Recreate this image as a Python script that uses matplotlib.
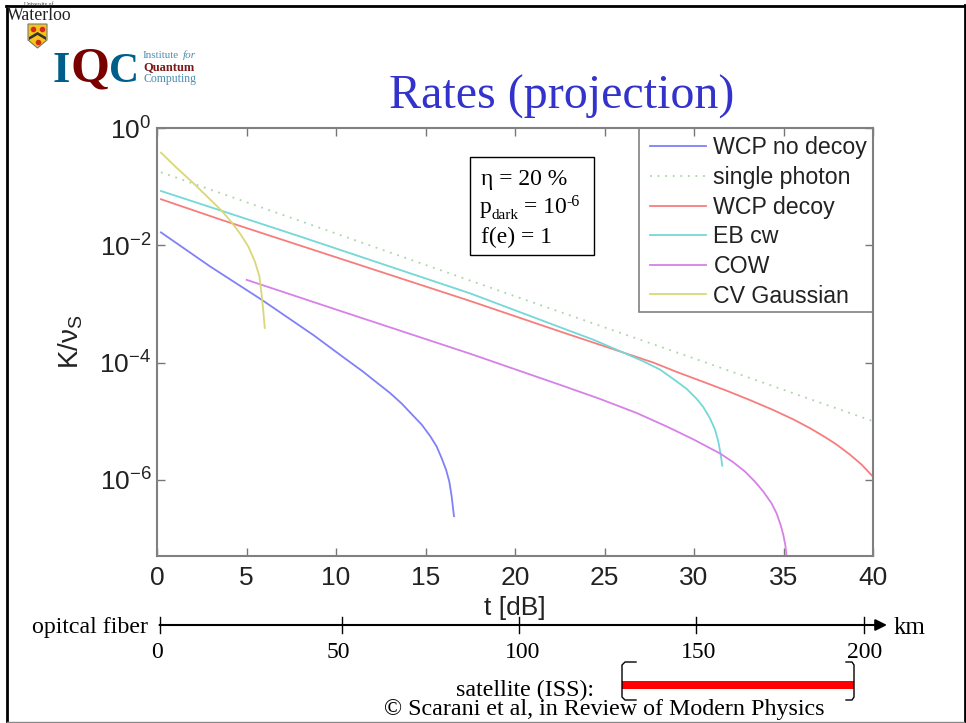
import numpy as np
import matplotlib as mpl
mpl.use("Agg")
import matplotlib.pyplot as plt
from matplotlib.patches import Polygon, Rectangle

mpl.rc("font", family=["Liberation Sans", "DejaVu Sans"], size=17)
mpl.rc("mathtext", default="regular")

# ----- data (t in dB, exponent of K/nu_S) -----

t_no_decoy = [0.22, 2.96, 5.85, 8.73, 10.41, 11.53, 12.27, 13.02, 13.67, 14.32, 14.79, 15.25, 15.62, 15.9, 16.15, 16.33, 16.46, 16.59]
k_no_decoy = [-1.78, -2.36, -2.93, -3.53, -3.91, -4.16, -4.34, -4.52, -4.70, -4.91, -5.06, -5.25, -5.43, -5.63, -5.83, -6.03, -6.28, -6.62]

t_single = [0.22, 10.0, 20.0, 30.0, 39.9]
k_single = [-0.755, -1.80, -2.87, -3.93, -4.99]

t_decoy = [0.22, 3.63, 17.49, 22.51, 26.05, 27.72, 29.03, 30.52, 31.82, 33.12, 34.43, 35.55, 36.48, 37.31, 37.97, 38.71, 39.36, 39.98]
k_decoy = [-1.215, -1.57, -2.95, -3.47, -3.83, -4.00, -4.16, -4.33, -4.48, -4.64, -4.81, -4.97, -5.12, -5.27, -5.40, -5.57, -5.74, -5.94]

t_eb = [0.22, 7.99, 17.49, 22.88, 24.37, 26.05, 27.17, 28.1, 28.93, 29.59, 30.15, 30.52, 30.89, 31.17, 31.36, 31.49, 31.58]
k_eb = [-1.074, -1.85, -2.82, -3.44, -3.61, -3.83, -3.98, -4.12, -4.30, -4.45, -4.62, -4.76, -4.95, -5.14, -5.35, -5.57, -5.76]

t_cow = [5.01, 10.04, 17.49, 22.51, 24.74, 26.79, 28.47, 29.96, 31.45, 32.19, 32.85, 33.40, 33.87, 34.33, 34.61, 34.84, 34.99, 35.10, 35.17]
k_cow = [-2.59, -3.10, -3.85, -4.38, -4.62, -4.86, -5.09, -5.31, -5.55, -5.70, -5.86, -6.03, -6.20, -6.40, -6.57, -6.77, -6.94, -7.11, -7.30]

t_cv = [0.22, 1.10, 2.03, 2.87, 3.61, 4.17, 4.64, 5.10, 5.47, 5.72, 5.85, 5.94, 6.02]
k_cv = [-0.42, -0.68, -0.94, -1.19, -1.41, -1.61, -1.80, -2.02, -2.28, -2.53, -2.85, -3.13, -3.41]

series_labels = ["WCP no decoy", "single photon", "WCP decoy", "EB cw", "COW", "CV Gaussian"]
series_colors = ["#8080f8", "#a9d6a9", "#f77d7d", "#74d8d8", "#d681e6", "#d8d878"]

x_ticks = [0, 5, 10, 15, 20, 25, 30, 35, 40]
y_ticks = [1e0, 1e-2, 1e-4, 1e-6]

km_ticks = [0, 50, 100, 150, 200]
km_tick_px = [159.5, 342, 519, 695.5, 864]
km_label_px = [157, 338, 523, 699, 865]

# ----- figure -----

fig = plt.figure(figsize=(9.66, 7.23), dpi=100, facecolor="w")
ax = fig.add_axes([157 / 966, 1 - 556 / 723, 716 / 966, 428 / 723])

all_t = [t_no_decoy, t_single, t_decoy, t_eb, t_cow, t_cv]
all_k = [k_no_decoy, k_single, k_decoy, k_eb, k_cow, k_cv]
for idx in range(len(all_t)):
    style = (0, (1, 3.2)) if idx == 1 else "-"
    ax.semilogy(all_t[idx], 10.0 ** np.array(all_k[idx]),
                color=series_colors[idx], linestyle=style, linewidth=1.3,
                label=series_labels[idx])

ax.set_xlim(0, 40)
ax.set_ylim(10.0 ** -7.3, 1.0)
ax.set_xticks(x_ticks)
ax.set_yticks(y_ticks)
ax.minorticks_off()
ax.tick_params(axis="both", which="major", direction="in", length=6, width=1,
               color="#777777", top=True, right=True, labelsize=19,
               labelcolor="#222222")
ax.tick_params(axis="x", pad=7)
ax.tick_params(axis="y", pad=4)
for spine in ax.spines.values():
    spine.set_color("#808080")
    spine.set_linewidth(1.5)

ax.set_xlabel("t [dB]", fontsize=19, color="#222222", labelpad=4.5)
ax.set_ylabel(r"K/$\nu_{S}$", fontsize=20, color="#222222", labelpad=10)

# legend frame is drawn separately so its height matches
ax.legend(loc="upper left", bbox_to_anchor=(0.676, 1.002), borderaxespad=0,
          fontsize=16.7, frameon=False,
          handlelength=2.4, handletextpad=0.32, labelspacing=0.286, borderpad=0.4,
          labelcolor="#222222")

# overlay in pixel coordinates for the slide furniture
over = fig.add_axes([0, 0, 1, 1], facecolor="none")
over.set_xlim(0, 966)
over.set_ylim(723, 0)
over.axis("off")
serif = "Liberation Serif"

over.add_patch(Rectangle((638.5, 128), 234.5, 184, fill=False, edgecolor="#808080", linewidth=1.2))

# slide frame
over.plot([7, 7], [6, 723], color="k", linewidth=2)
over.plot([6, 965], [6, 6], color="k", linewidth=2)
over.plot([964.5, 964.5], [5, 723], color="k", linewidth=2)
over.plot([7, 964], [722, 722], color="#888888", linewidth=1)

# logos
over.text(39, 4.5, "University of", family=serif, fontsize=4, ha="center", va="center", color="#333333")
over.text(39.5, 16, "Waterloo", family=serif, fontsize=12.8, ha="center", va="center", color="#222222")
over.add_patch(Polygon([(28, 24), (47, 24), (47, 40), (37.5, 48), (28, 40)],
                       facecolor="#f5c518", edgecolor="#777777", linewidth=0.8))
over.add_patch(Polygon([(29, 37), (37.5, 32), (46, 37), (46, 40), (37.5, 35), (29, 40)],
                       facecolor="#333333", edgecolor="none"))
over.plot([33, 42, 37.5], [29, 29, 42], linestyle="none", marker="o", markersize=3, color="#d8281e")
over.text(61.5, 82, "I", family=serif, fontsize=32, weight="bold", ha="center", va="baseline", color="#005f8a")
over.text(90, 82, "Q", family=serif, fontsize=36, weight="bold", ha="center", va="baseline", color="#7a0000")
over.text(124, 82, "C", family=serif, fontsize=30, weight="bold", ha="center", va="baseline", color="#005f8a")
over.text(143, 55, "Institute", family=serif, fontsize=8, ha="left", va="center", color="#4a8fb0")
over.text(183, 55, "for", family=serif, fontsize=8, style="italic", ha="left", va="center", color="#4a8fb0")
over.text(143, 67, "Quantum", family=serif, fontsize=9, weight="bold", ha="left", va="center", color="#7a1a1a")
over.text(143, 79, "Computing", family=serif, fontsize=8.5, ha="left", va="center", color="#4a8fb0")

# title
over.text(562, 97, "Rates (projection)", family=serif, fontsize=34.6, ha="center", va="center", color="#3333cc")

# parameter box
over.add_patch(Rectangle((470, 157), 124, 98, facecolor="w", edgecolor="k", linewidth=1))
over.text(481, 185, "\u03b7 = 20 %", family=serif, fontsize=17, ha="left", va="baseline")
over.text(480, 213, "p", family=serif, fontsize=17, ha="left", va="baseline")
over.text(492, 219, "dark", family=serif, fontsize=11, ha="left", va="baseline")
over.text(524, 213, "= 10", family=serif, fontsize=17, ha="left", va="baseline")
over.text(566, 206, "-6", family=serif, fontsize=11.5, ha="left", va="baseline")
over.text(481, 243, "f(e) = 1", family=serif, fontsize=17, ha="left", va="baseline")

# km axis
over.annotate("", xy=(887, 625), xytext=(159.5, 625),
              arrowprops=dict(arrowstyle="-|>", color="k", linewidth=1.5, shrinkA=0, shrinkB=0))
for tick_px, label_px, km in zip(km_tick_px, km_label_px, km_ticks):
    over.plot([tick_px, tick_px], [617, 633], color="k", linewidth=1)
    over.text(label_px, 652, str(km), family=serif, fontsize=17, ha="center", va="center")
over.text(148, 628, "opitcal fiber", family=serif, fontsize=17.2, ha="right", va="center")
over.text(894, 628, "km", family=serif, fontsize=18, ha="left", va="center")

# satellite range
over.add_patch(Rectangle((622, 681), 232, 8, facecolor="#ff0000", edgecolor="none"))
over.plot([636, 625, 622, 622, 625, 636], [662, 662, 665, 697, 700, 700], color="k", linewidth=1)
over.plot([846, 852, 854, 854, 852, 846], [662, 662, 665, 697, 700, 700], color="k", linewidth=1)
over.text(594, 690.5, "satellite (ISS):", family=serif, fontsize=17.25, ha="right", va="center")
over.text(604, 710, "\u00a9 Scarani et al, in Review of Modern Physics", family=serif, fontsize=17.25, ha="center", va="center")

plt.savefig("out.png", dpi=100)
plt.close(fig)
